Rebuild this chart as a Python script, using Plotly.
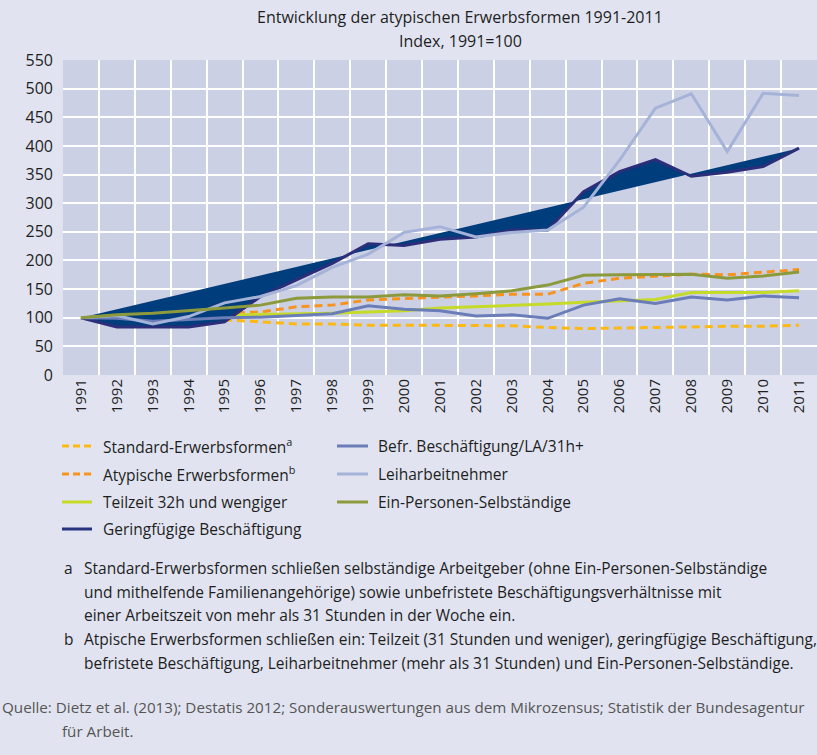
import plotly.graph_objects as go

# Index values, 1991 = 100
years = list(range(1991, 2012))

standard = [100, 98, 97, 96, 96, 93, 89, 89, 87, 87, 87, 87, 86, 83, 81, 82, 83, 85, 85, 85, 87]
atypisch = [100, 102, 104, 106, 108, 110, 119, 122, 131, 134, 136, 138, 141, 141, 160, 169, 172, 176, 175, 179, 184]
teilzeit = [100, 101, 102, 103, 104, 105, 106, 108, 110, 112, 117, 119, 122, 124, 127, 130, 132, 144, 144, 144, 147]
geringfuegig = [100, 84, 84, 84, 93, 137, 166, 195, 229, 226, 237, 241, 253, 253, 320, 355, 376, 347, 354, 364, 396]
befristet = [100, 99, 94, 97, 100, 101, 104, 107, 121, 115, 112, 103, 105, 99, 122, 133, 125, 136, 131, 138, 135]
leiharbeit = [100, 104, 89, 102, 126, 137, 156, 188, 211, 249, 259, 241, 249, 253, 293, 375, 466, 491, 390, 492, 488]
ein_personen = [100, 105, 108, 112, 117, 122, 134, 136, 136, 140, 138, 142, 147, 157, 174, 175, 175, 176, 169, 173, 180]

y_ticks = list(range(0, 551, 50))

title_lines = ["Entwicklung der atypischen Erwerbsformen 1991-2011", "Index, 1991=100"]

legend_items = [
    ("Standard-Erwerbsformen<sup>a</sup>", "#fdb913", "dash"),
    ("Atypische Erwerbsformen<sup>b</sup>", "#f7931e", "dash"),
    ("Teilzeit 32h und wengiger", "#c6da2a", "solid"),
    ("Geringfügige Beschäftigung", "#27337d", "solid"),
    ("Befr. Beschäftigung/LA/31h+", "#6a7db8", "solid"),
    ("Leiharbeitnehmer", "#a5b3d8", "solid"),
    ("Ein-Personen-Selbständige", "#8c9a3c", "solid"),
]

footnotes = [
    ("a", "Standard-Erwerbsformen schließen selbständige Arbeitgeber (ohne Ein-Personen-Selbständige"),
    ("", "und mithelfende Familienangehörige) sowie unbefristete Beschäftigungsverhältnisse mit"),
    ("", "einer Arbeitszeit von mehr als 31 Stunden in der Woche ein."),
    ("b", "Atpische Erwerbsformen schließen ein: Teilzeit (31 Stunden und weniger), geringfügige Beschäftigung,"),
    ("", "befristete Beschäftigung, Leiharbeitnehmer (mehr als 31 Stunden) und Ein-Personen-Selbständige."),
]

source_lines = [
    "Quelle: Dietz et al. (2013); Destatis 2012; Sonderauswertungen aus dem Mikrozensus; Statistik der Bundesagentur",
    "für Arbeit.",
]

FONT = "Open Sans"
TXT = "#1e1e1e"
W, H = 817, 755
ML, MT, PH = 63, 60, 315
PW = W - ML

fig = go.Figure()

DASH = "8px,5px"


def line_trace(y, color, dash="solid", width=3):
    return go.Scatter(
        x=years, y=y, mode="lines", showlegend=False, hoverinfo="skip",
        line=dict(color=color, width=width, dash=DASH if dash == "dash" else "solid"),
    )


fig.add_trace(line_trace(standard, "#fdb913", "dash"))
fig.add_trace(line_trace(atypisch, "#f7931e", "dash"))
fig.add_trace(line_trace(teilzeit, "#c6da2a"))
# Geringfügige Beschäftigung: filled shape closing from 2011 back to 1991
fig.add_trace(go.Scatter(
    x=years, y=geringfuegig, mode="lines", fill="toself", fillcolor="#003d7c",
    line=dict(color="#2c2e7a", width=3), showlegend=False, hoverinfo="skip",
))
fig.add_trace(line_trace(befristet, "#6a7db8"))
fig.add_trace(line_trace(leiharbeit, "#a5b3d8"))
fig.add_trace(line_trace(ein_personen, "#8c9a3c"))


# page pixel -> paper coordinates (paper spans the plot area)
def py(y_px):
    return (MT + PH - y_px) / PH


def px(x_px):
    return (x_px - ML) / PW


annotations = []
shapes = []

# title
for i, t in enumerate(title_lines):
    annotations.append(dict(
        x=px(460), y=py(17 + 24 * i), xref="paper", yref="paper", text=t,
        showarrow=False, xanchor="center", yanchor="middle",
        font=dict(family=FONT, size=16, color=TXT),
    ))

# legend in two columns
col_x = [(62, 92, 101), (337, 368, 376)]
row_y = [446, 474, 502, 529]
for idx, (label, color, dash) in enumerate(legend_items):
    col = 0 if idx < 4 else 1
    row = idx if idx < 4 else idx - 4
    x0, x1, xt = col_x[col]
    yy = row_y[row]
    shapes.append(dict(
        type="line", xref="paper", yref="paper",
        x0=px(x0), x1=px(x1), y0=py(yy), y1=py(yy),
        line=dict(color=color, width=3, dash="7px,4px" if dash == "dash" else "solid"),
    ))
    annotations.append(dict(
        x=px(xt), y=py(yy), xref="paper", yref="paper", text=label,
        showarrow=False, xanchor="left", yanchor="middle",
        font=dict(family=FONT, size=15.5, color=TXT),
    ))

# footnotes
fn_y = [568, 592, 615, 639, 663]
for (mark, text), yy in zip(footnotes, fn_y):
    if mark:
        annotations.append(dict(
            x=px(62), y=py(yy), xref="paper", yref="paper", text=mark,
            showarrow=False, xanchor="left", yanchor="middle",
            font=dict(family=FONT, size=15.5, color=TXT),
        ))
    annotations.append(dict(
        x=px(82), y=py(yy), xref="paper", yref="paper", text=text,
        showarrow=False, xanchor="left", yanchor="middle",
        font=dict(family=FONT, size=15.5, color=TXT),
    ))

# source
for (text, xx, yy) in [(source_lines[0], 0, 707), (source_lines[1], 60, 731)]:
    annotations.append(dict(
        x=px(xx), y=py(yy), xref="paper", yref="paper", text=text,
        showarrow=False, xanchor="left", yanchor="middle",
        font=dict(family=FONT, size=15.2, color="#555555"),
    ))

fig.update_layout(
    width=W, height=H,
    margin=dict(l=ML, r=0, t=MT, b=H - MT - PH, pad=0),
    paper_bgcolor="#e1e4f0",
    plot_bgcolor="#cbd0e4",
    showlegend=False,
    annotations=annotations,
    shapes=shapes,
    xaxis=dict(
        range=[1990.5, 2011.5],
        tickmode="array", tickvals=years, ticktext=[str(y) for y in years],
        tickangle=-90, showgrid=False, zeroline=False, showline=False,
        ticks="", ticklen=0,
        tickfont=dict(family=FONT, size=15, color=TXT),
        minor=dict(tick0=1991.5, dtick=1, showgrid=True, gridcolor="#ffffff", gridwidth=2, ticks=""),
        fixedrange=True,
    ),
    yaxis=dict(
        range=[0, 550], tickmode="array", tickvals=y_ticks,
        showgrid=True, gridcolor="#ffffff", gridwidth=2,
        zeroline=False, showline=False, ticks="",
        ticklabelstandoff=9,
        tickfont=dict(family=FONT, size=16, color=TXT),
        fixedrange=True,
    ),
)

fig.write_html("out.html")
